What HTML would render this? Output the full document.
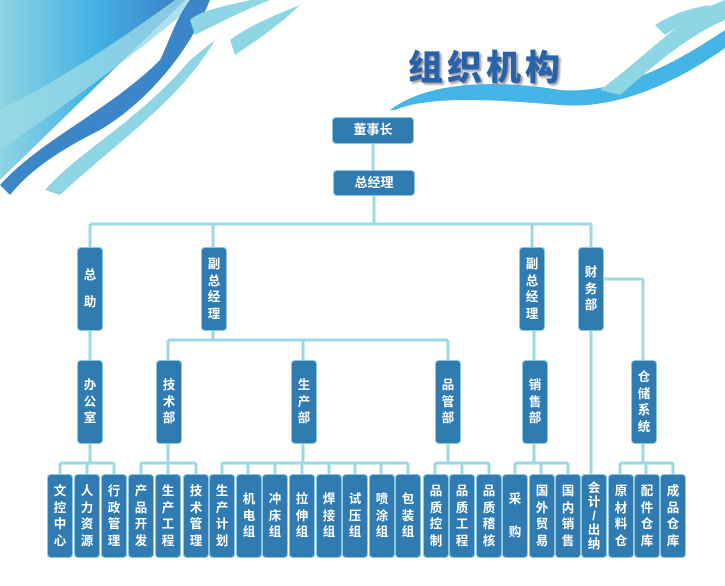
<!DOCTYPE html>
<html><head><meta charset="utf-8"><style>
body{margin:0;width:725px;height:586px;background:#fff;position:relative;overflow:hidden;font-family:"Liberation Sans","Noto Sans CJK SC",sans-serif}
.b{position:absolute;background:#2f7bb2;border:1px solid #8cc9dd;border-radius:4px;color:#fff;font-weight:bold;font-size:12.5px;text-align:center;box-sizing:border-box;display:flex;flex-direction:column;justify-content:center;align-items:center;line-height:16.5px}
.h{font-size:13px}
.t{position:absolute;left:408px;top:40px;font-size:35px;font-weight:900;color:#2a62aa;letter-spacing:4px;text-shadow:2px 2px 2px #999,-1px -1px 0 #fff}
</style></head><body>
<svg width="725" height="586" style="position:absolute;left:0;top:0">
<defs>
<linearGradient id="g1" x1="0" y1="0" x2="1" y2="0"><stop offset="0" stop-color="#8fd4e2"/><stop offset="0.5" stop-color="#45b3e6"/><stop offset="1" stop-color="#3b7ec6"/></linearGradient>
</defs>
<polygon points="0,0 185,0 0,180" fill="url(#g1)"/>
<path d="M0,110 C60,80 120,40 175,0 L200,0 C140,50 80,95 0,150Z" fill="#9ad9e6" opacity="0.8"/>
<path d="M0,185 C40,140 110,110 160,60 C170,40 175,20 190,0 L210,0 C190,50 150,100 100,130 C60,150 30,170 10,195Z" fill="#3a86c9"/>
<path d="M45,190 C80,150 140,120 190,60 L215,40 C180,100 120,140 60,195Z" fill="#8fd6e4"/>
<path d="M190,20 C200,10 230,5 250,0 L270,0 C245,10 215,25 195,35Z" fill="#8fd6e4"/>
<path d="M230,40 C250,25 275,15 300,5 C280,25 250,45 235,55Z" fill="#8fd6e4"/>
<path d="M390,110 C430,80 500,80 560,90 C620,95 680,60 725,30 L725,48 C680,80 620,110 560,105 C500,100 430,95 395,110Z" fill="#45b4e6"/>
<path d="M600,90 C640,60 670,30 700,10 L725,0 L725,20 C690,35 660,60 620,95Z" fill="#8fd6e4"/>
<path d="M655,25 C670,15 690,8 710,5 C695,15 680,25 665,35Z" fill="#8fd6e4"/>
<g stroke="#9dd8e5" stroke-width="3" fill="none">
<line x1="373" y1="143" x2="373" y2="171"/>
<line x1="374" y1="195" x2="374" y2="224"/>
<line x1="90" y1="224" x2="592" y2="224"/>
<line x1="90" y1="224" x2="90" y2="247"/>
<line x1="213" y1="224" x2="213" y2="247"/>
<line x1="532" y1="224" x2="532" y2="247"/>
<line x1="591" y1="224" x2="591" y2="247"/>
<line x1="90" y1="330" x2="90" y2="360"/>
<line x1="213" y1="330" x2="213" y2="340"/>
<line x1="168" y1="340" x2="448" y2="340"/>
<line x1="168" y1="340" x2="168" y2="360"/>
<line x1="303" y1="340" x2="303" y2="360"/>
<line x1="448" y1="340" x2="448" y2="360"/>
<line x1="534" y1="330" x2="534" y2="360"/>
<line x1="603" y1="279" x2="643" y2="279"/>
<line x1="643" y1="279" x2="643" y2="360"/>
<line x1="591" y1="330" x2="591" y2="474"/>
<line x1="90" y1="444" x2="90" y2="463"/><line x1="60" y1="463" x2="114" y2="463"/>
<line x1="168" y1="444" x2="168" y2="463"/><line x1="141" y1="463" x2="196" y2="463"/>
<line x1="303" y1="444" x2="303" y2="463"/><line x1="222" y1="463" x2="408" y2="463"/>
<line x1="448" y1="444" x2="448" y2="463"/><line x1="435" y1="463" x2="489" y2="463"/>
<line x1="534" y1="444" x2="534" y2="463"/><line x1="515" y1="463" x2="568" y2="463"/>
<line x1="643" y1="444" x2="643" y2="463"/><line x1="620" y1="463" x2="673" y2="463"/>
<g id="drops">
<line x1="60" y1="463" x2="60" y2="474"/><line x1="87" y1="463" x2="87" y2="474"/><line x1="114" y1="463" x2="114" y2="474"/>
<line x1="141" y1="463" x2="141" y2="474"/><line x1="168" y1="463" x2="168" y2="474"/><line x1="196" y1="463" x2="196" y2="474"/>
<line x1="222" y1="463" x2="222" y2="474"/><line x1="248" y1="463" x2="248" y2="474"/><line x1="275" y1="463" x2="275" y2="474"/><line x1="302" y1="463" x2="302" y2="474"/><line x1="329" y1="463" x2="329" y2="474"/><line x1="355" y1="463" x2="355" y2="474"/><line x1="381" y1="463" x2="381" y2="474"/><line x1="408" y1="463" x2="408" y2="474"/>
<line x1="435" y1="463" x2="435" y2="474"/><line x1="462" y1="463" x2="462" y2="474"/><line x1="489" y1="463" x2="489" y2="474"/>
<line x1="515" y1="463" x2="515" y2="474"/><line x1="541" y1="463" x2="541" y2="474"/><line x1="568" y1="463" x2="568" y2="474"/>
<line x1="620" y1="463" x2="620" y2="474"/><line x1="646" y1="463" x2="646" y2="474"/><line x1="673" y1="463" x2="673" y2="474"/>
</g>
</g>
</svg>
<div class="t">组织机构</div>
<div class="b h" style="left:332px;top:117px;width:82px;height:27px">董事长</div>
<div class="b h" style="left:333px;top:170px;width:82px;height:26px">总经理</div>
<div class="b" style="left:77px;top:247px;width:26px;height:84px;line-height:27px">总<br>助</div>
<div class="b" style="left:201px;top:247px;width:26px;height:84px">副<br>总<br>经<br>理</div>
<div class="b" style="left:519px;top:247px;width:26px;height:84px">副<br>总<br>经<br>理</div>
<div class="b" style="left:578px;top:247px;width:26px;height:84px">财<br>务<br>部</div>
<div class="b" style="left:77px;top:360px;width:26px;height:84px">办<br>公<br>室</div>
<div class="b" style="left:156px;top:360px;width:26px;height:84px">技<br>术<br>部</div>
<div class="b" style="left:291px;top:360px;width:26px;height:84px">生<br>产<br>部</div>
<div class="b" style="left:435px;top:360px;width:26px;height:84px">品<br>管<br>部</div>
<div class="b" style="left:522px;top:360px;width:26px;height:84px">销<br>售<br>部</div>
<div class="b" style="left:631px;top:360px;width:26px;height:84px">仓<br>储<br>系<br>统</div>
<div class="b" style="left:47px;top:474px;width:26px;height:84px">文<br>控<br>中<br>心</div>
<div class="b" style="left:74px;top:474px;width:26px;height:84px">人<br>力<br>资<br>源</div>
<div class="b" style="left:101px;top:474px;width:26px;height:84px">行<br>政<br>管<br>理</div>
<div class="b" style="left:128px;top:474px;width:26px;height:84px">产<br>品<br>开<br>发</div>
<div class="b" style="left:155px;top:474px;width:26px;height:84px">生<br>产<br>工<br>程</div>
<div class="b" style="left:183px;top:474px;width:26px;height:84px">技<br>术<br>管<br>理</div>
<div class="b" style="left:209px;top:474px;width:26px;height:84px">生<br>产<br>计<br>划</div>
<div class="b" style="left:236px;top:474px;width:26px;height:84px">机<br>电<br>组</div>
<div class="b" style="left:262px;top:474px;width:26px;height:84px">冲<br>床<br>组</div>
<div class="b" style="left:289px;top:474px;width:26px;height:84px">拉<br>伸<br>组</div>
<div class="b" style="left:316px;top:474px;width:26px;height:84px">焊<br>接<br>组</div>
<div class="b" style="left:342px;top:474px;width:26px;height:84px">试<br>压<br>组</div>
<div class="b" style="left:369px;top:474px;width:26px;height:84px">喷<br>涂<br>组</div>
<div class="b" style="left:395px;top:474px;width:26px;height:84px">包<br>装<br>组</div>
<div class="b" style="left:423px;top:474px;width:26px;height:84px">品<br>质<br>控<br>制</div>
<div class="b" style="left:449px;top:474px;width:26px;height:84px">品<br>质<br>工<br>程</div>
<div class="b" style="left:476px;top:474px;width:26px;height:84px">品<br>质<br>稽<br>核</div>
<div class="b" style="left:502px;top:474px;width:26px;height:84px;line-height:33px">采<br>购</div>
<div class="b" style="left:529px;top:474px;width:26px;height:84px">国<br>外<br>贸<br>易</div>
<div class="b" style="left:555px;top:474px;width:26px;height:84px">国<br>内<br>销<br>售</div>
<div class="b" style="left:581px;top:474px;width:26px;height:84px;line-height:14px">会<br>计<br>/<br>出<br>纳</div>
<div class="b" style="left:608px;top:474px;width:26px;height:84px">原<br>材<br>料<br>仓</div>
<div class="b" style="left:634px;top:474px;width:26px;height:84px">配<br>件<br>仓<br>库</div>
<div class="b" style="left:660px;top:474px;width:26px;height:84px">成<br>品<br>仓<br>库</div>
</body></html>
